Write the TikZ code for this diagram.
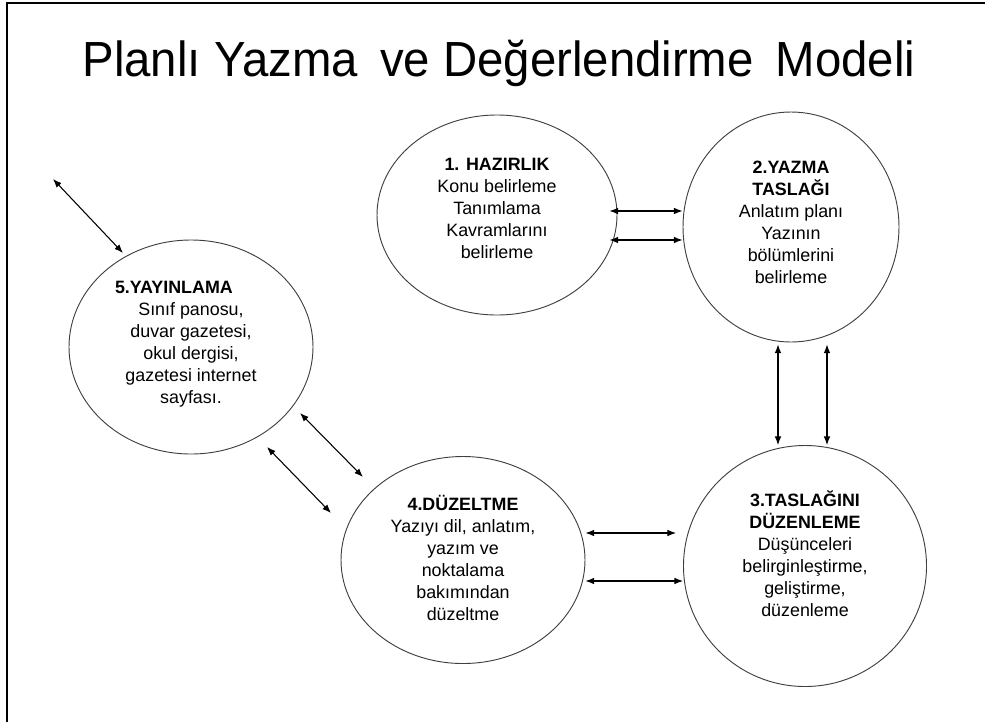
\documentclass[tikz,border=0pt]{standalone}
\usepackage{fontspec}
\setmainfont{Liberation Sans}
\usetikzlibrary{arrows.meta,calc,shapes.geometric}
\tikzset{
  phase/.style={draw=black!75, line width=0.7pt, ellipse, inner sep=0pt},
  phasetext/.style={align=center, font=\fontsize{13.4}{16.5}\selectfont},
  twoway/.style={{Latex[length=6.5pt,width=5pt]}-{Latex[length=6.5pt,width=5pt]}, line width=0.8pt},
}
\begin{document}
\begin{tikzpicture}[x=0.75pt,y=-0.75pt]
    \useasboundingbox (0,0) rectangle (985,722);
    \draw[line width=1.5pt] (7,722) -- (7,3) -- (985,3);
    \node[font=\fontsize{37}{42}\selectfont, anchor=base, inner sep=0pt] (baslik) at (499,76) {\scalebox{0.96}[1]{Planlı Yazma\hspace{7pt} ve Değerlendirme\hspace{7pt} Modeli}};
    \node[phase, minimum width=180pt, minimum height=150pt] (hazirlik) at (497,215) {};
    \node[phase, minimum width=162pt, minimum height=172.5pt] (yazma) at (791,227) {};
    \node[phase, minimum width=183pt, minimum height=160.5pt] (yayinlama) at (191,347) {};
    \node[phase, minimum width=183pt, minimum height=155.25pt] (duzeltme) at (463,560) {};
    \node[phase, minimum width=182.25pt, minimum height=180.75pt] (taslak) at (805,566) {};
    \node[phasetext] (hazirlik-text) at ($(hazirlik)+(0,-7)$) {\textbf{1. HAZIRLIK}\\Konu belirleme\\Tanımlama\\Kavramlarını\\belirleme};
    \node[phasetext] (yazma-text) at ($(yazma)+(0,-5)$) {\textbf{2.YAZMA}\\\textbf{TASLAĞI}\\Anlatım planı\\Yazının\\bölümlerini\\belirleme};
    \node[phasetext] (yayinlama-text) at ($(yayinlama)+(0,-3)$) {\makebox[114pt][l]{\textbf{5.YAYINLAMA}}\\Sınıf panosu,\\duvar gazetesi,\\okul dergisi,\\gazetesi internet\\sayfası.};
    \node[phasetext] (duzeltme-text) at ($(duzeltme)+(0,-2)$) {\textbf{4.DÜZELTME}\\Yazıyı dil, anlatım,\\yazım ve\\noktalama\\bakımından\\düzeltme};
    \node[phasetext] (taslak-text) at ($(taslak)+(0,-12)$) {\textbf{3.TASLAĞINI}\\\textbf{DÜZENLEME}\\Düşünceleri\\belirginleştirme,\\geliştirme,\\düzenleme};
    \draw[twoway] ($(hazirlik.east)+(-8,-4)$) coordinate (p) -- (p -| yazma.west);
    \draw[twoway] ($(hazirlik.east)+(-8,25)$) coordinate (p) -- (p -| yazma.west);
    \draw[twoway] ($(yazma.south)+(-13,2)$) coordinate (p) -- (p |- taslak.north);
    \draw[twoway] ($(yazma.south)+(36,2)$) coordinate (p) -- (p |- taslak.north);
    \draw[twoway] ($(duzeltme.east)+(0,-27)$) coordinate (p) -- ($(p -| taslak.west)+(-7,0)$);
    \draw[twoway] ($(duzeltme.east)+(0,21)$) coordinate (p) -- (p -| taslak.west);
    \draw[twoway] ($(yayinlama)+(109,66)$) -- ($(duzeltme)+(-100,-83)$);
    \draw[twoway] ($(yayinlama)+(76,100)$) -- ($(duzeltme)+(-132,-47)$);
    \coordinate (disari) at (53,179);
    \draw[twoway] (disari) -- ($(yayinlama)+(-68,-94)$);
\end{tikzpicture}
\end{document}
